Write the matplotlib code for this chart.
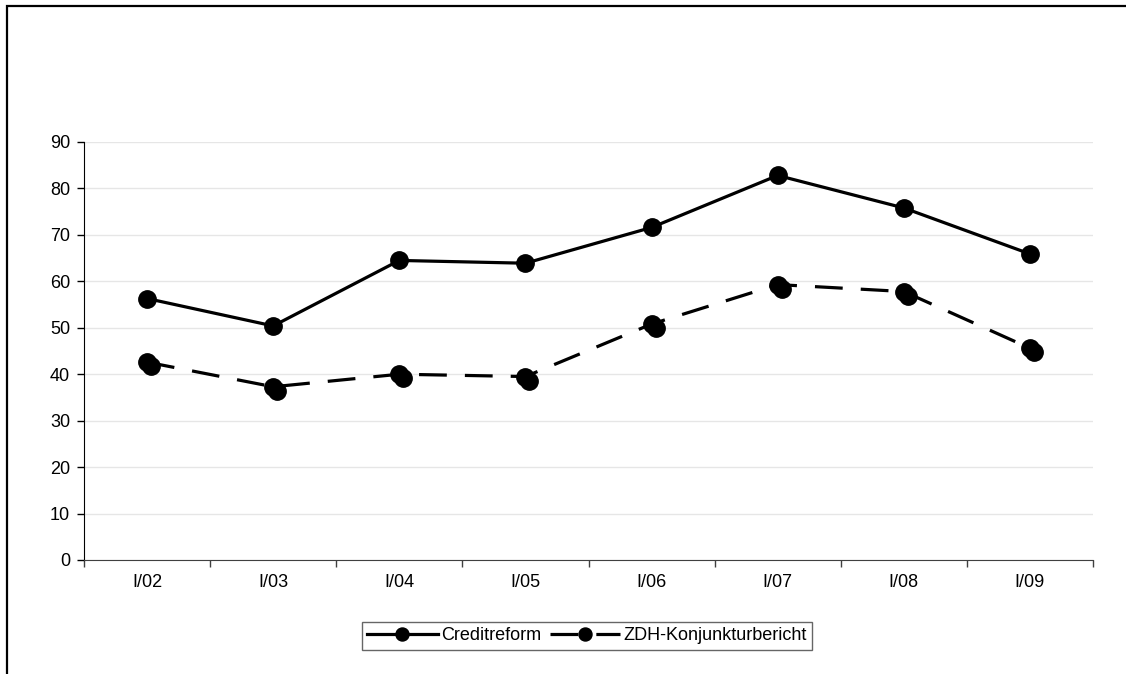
import numpy as np
import matplotlib.pyplot as plt
import matplotlib.transforms as mtransforms
from matplotlib.patches import Rectangle

plt.rcParams['font.family'] = ['Liberation Sans', 'DejaVu Sans']
plt.rcParams['lines.scale_dashes'] = False

# data
categories = ['I/02', 'I/03', 'I/04', 'I/05', 'I/06', 'I/07', 'I/08', 'I/09']
creditreform = [56.3, 50.4, 64.5, 63.9, 71.6, 82.8, 75.8, 65.9]
zdh = [42.6, 37.3, 40.0, 39.5, 50.8, 59.3, 57.8, 45.6]
yticks = [0, 10, 20, 30, 40, 50, 60, 70, 80, 90]

fig = plt.figure(figsize=(11.26, 6.74), dpi=100)
ax = fig.add_axes([84 / 1126, 1 - 560 / 674, (1093 - 84) / 1126, (560 - 142) / 674])

x = np.arange(len(categories))
ax.plot(x, creditreform, color='black', lw=2.3, marker='o', ms=12.5,
        label='Creditreform')
ax.plot(x, zdh, color='black', lw=2.3, marker='o', ms=12.5,
        dashes=(20, 13), label='ZDH-Konjunkturbericht')
# the reference shows each ZDH marker doubled, shifted a few pixels down-right
shift = mtransforms.ScaledTranslation(4 / 100, -4 / 100, fig.dpi_scale_trans)
ax.plot(x, zdh, color='black', ls='none', marker='o', ms=12.5,
        transform=ax.transData + shift)

ax.set_xlim(-0.5, len(categories) - 0.5)
ax.set_ylim(0, 90)
ax.set_yticks(yticks)
ax.set_xticks(x)
ax.set_xticklabels(categories)
ax.set_xticks(np.arange(len(categories) + 1) - 0.5, minor=True)
ax.tick_params(axis='x', which='major', length=0, pad=10, labelsize=13)
ax.tick_params(axis='x', which='minor', length=5, width=1, color='#404040', direction='out')
ax.tick_params(axis='y', length=5, width=1, pad=5, labelsize=13)

ax.grid(axis='y', color='#e6e6e6', lw=1)
ax.set_axisbelow(True)
for s in ['top', 'right']:
    ax.spines[s].set_visible(False)
ax.spines['left'].set_color('black')
ax.spines['bottom'].set_color('#404040')

handles, labels = ax.get_legend_handles_labels()
leg = fig.legend(handles[:2], labels[:2], ncol=2, loc='center',
                 bbox_to_anchor=(587 / 1126, 1 - 636 / 674), fontsize=13,
                 frameon=True, fancybox=False, edgecolor='#404040',
                 handlelength=3.9, handletextpad=0.17, columnspacing=0.5,
                 borderpad=0.28, borderaxespad=0, markerscale=0.75)
leg.get_frame().set_linewidth(1)

# outer chart frame (cut off at right and bottom in the reference)
fig.patches.append(Rectangle((7 / 1126, -0.2), 1.2, 1.2 - 6 / 674,
                             transform=fig.transFigure, fill=False,
                             edgecolor='black', lw=1.6, clip_on=False))

fig.savefig('out.png', dpi=100)
